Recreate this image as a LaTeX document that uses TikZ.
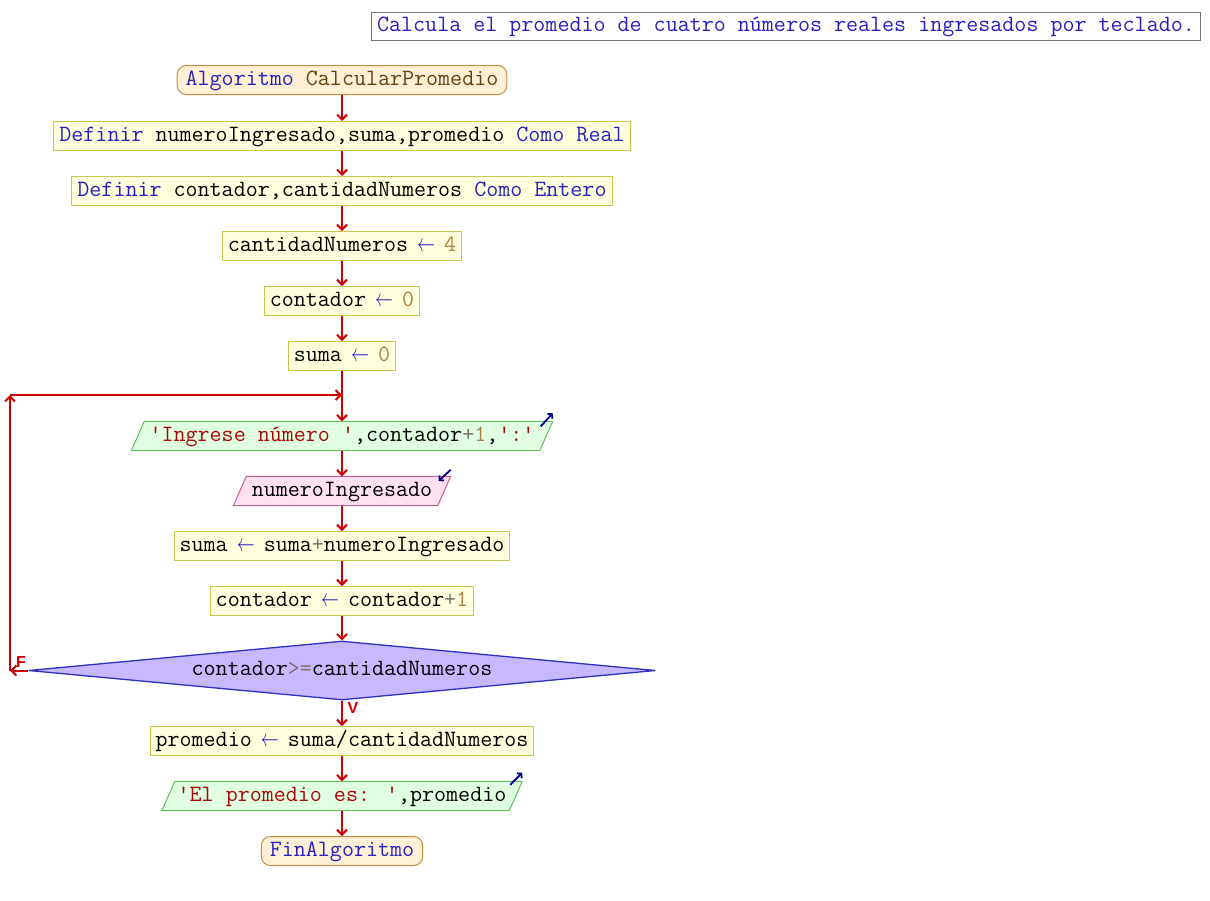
\documentclass[tikz,border=0pt]{standalone}
\usepackage{fontspec}
\newfontfamily\labfont{Liberation Sans}
\usetikzlibrary{arrows.meta,shapes.geometric,calc}
\pgfdeclarelayer{background}
\pgfsetlayers{background,main}
\definecolor{kwc}{RGB}{40,32,192}
\definecolor{nmc}{RGB}{100,64,16}
\definecolor{strc}{RGB}{168,8,8}
\definecolor{numc}{RGB}{176,128,64}
\definecolor{opc}{RGB}{128,112,96}
\definecolor{procf}{RGB}{255,255,221}
\definecolor{procb}{RGB}{200,200,80}
\definecolor{termf}{RGB}{255,240,214}
\definecolor{termb}{RGB}{200,140,64}
\definecolor{outf}{RGB}{224,255,224}
\definecolor{outb}{RGB}{96,192,96}
\definecolor{inf}{RGB}{255,224,240}
\definecolor{inb}{RGB}{192,96,144}
\definecolor{decf}{RGB}{200,184,255}
\definecolor{decb}{RGB}{48,48,192}
\definecolor{arrc}{RGB}{204,0,0}
\definecolor{iconc}{RGB}{0,0,140}
\newcommand\kwx[1]{\textcolor{kwc}{#1}}
\newcommand\stx[1]{\textcolor{strc}{#1}}
\newcommand\nbx[1]{\textcolor{numc}{#1}}
\newcommand\opx[1]{\textcolor{opc}{#1}}
\newcommand\larr{\makebox[12pt][c]{\textcolor{kwc}{\scalebox{0.72}[1]{$\leftarrow$}}}}
\begin{document}
\begin{tikzpicture}[x=1pt,y=-1pt,
  font=\ttfamily\fontsize{23.35}{26}\selectfont,
  every node/.style={text height=14pt,text depth=4pt},
  proc/.style={rectangle,draw=procb,fill=procf,line width=1pt,inner xsep=5.5pt,inner ysep=0pt,minimum height=29pt},
  term/.style={rectangle,rounded corners=9pt,draw=termb,fill=termf,line width=1pt,inner xsep=8.5pt,inner ysep=0pt,minimum height=29pt},
  par/.style={rectangle,inner sep=0pt,minimum height=29pt},
  dec/.style={diamond,draw=decb,fill=decf,line width=1.3pt,aspect=10,inner sep=0pt,minimum width=627pt,minimum height=59pt},
  arr/.style={draw=arrc,line width=2pt,-{Straight Barb[length=5pt,width=10pt]}},
  icon/.style={draw=iconc,line width=1.8pt,-{Straight Barb[length=3pt,width=7pt]}},
  lab/.style={font=\labfont\bfseries\fontsize{16}{16}\selectfont,text=arrc,inner sep=0pt,text height=12pt,text depth=0pt}]
\useasboundingbox (0,0) rectangle (1210,900);

\node[rectangle,draw=black!55,fill=white,line width=1pt,inner xsep=5.5pt,inner ysep=0pt,minimum height=28pt,text=kwc] (title) at (786,26) {Calcula el promedio de cuatro números reales ingresados por teclado.};

\node[term] (start) at (342,80) {\kwx{Algoritmo} \textcolor{nmc}{CalcularPromedio}};
\node[proc] (d1) at (342,136) {\kwx{Definir} numeroIngresado,suma,promedio \kwx{Como Real}};
\node[proc] (d2) at (342,191) {\kwx{Definir} contador,cantidadNumeros \kwx{Como Entero}};
\node[proc] (a1) at (342,246) {cantidadNumeros \larr{} \nbx{4}};
\node[proc] (a2) at (342,301) {contador \larr{} \nbx{0}};
\node[proc] (a3) at (342,356) {suma \larr{} \nbx{0}};
\node[par,minimum width=408pt] (o1) at (342,436) {\stx{'Ingrese número '},contador\opx{+}\nbx{1},\stx{':'}};
\node[par,minimum width=204pt] (i1) at (342,491) {numeroIngresado};
\node[proc] (a4) at (342,546) {suma \larr{} suma\opx{+}numeroIngresado};
\node[proc] (a5) at (342,601) {contador \larr{} contador\opx{+}\nbx{1}};
\node[dec] (c1) at (342,670.5) {contador\opx{>=}cantidadNumeros};
\node[proc] (a6) at (342,741) {promedio \larr{} suma/cantidadNumeros};
\node[par,minimum width=347pt] (o2) at (342,796) {\stx{'El promedio es: '},promedio};
\node[term] (fin) at (342,851) {\kwx{FinAlgoritmo}};

\begin{pgfonlayer}{background}
\fill[white] (0,0) rectangle (1210,900);
\filldraw[draw=outb,fill=outf,line width=1pt] ($(o1.south west)+(-6.5,0)$) -- ($(o1.north west)+(6.5,0)$) -- ($(o1.north east)+(6.5,0)$) -- ($(o1.south east)+(-6.5,0)$) -- cycle;
\filldraw[draw=inb,fill=inf,line width=1pt] ($(i1.south west)+(-6.5,0)$) -- ($(i1.north west)+(6.5,0)$) -- ($(i1.north east)+(6.5,0)$) -- ($(i1.south east)+(-6.5,0)$) -- cycle;
\filldraw[draw=outb,fill=outf,line width=1pt] ($(o2.south west)+(-6.5,0)$) -- ($(o2.north west)+(6.5,0)$) -- ($(o2.north east)+(6.5,0)$) -- ($(o2.south east)+(-6.5,0)$) -- cycle;
\end{pgfonlayer}

\draw[icon] ([shift={(-5.5,5)}]o1.north east) -- ([shift={(6.5,-8)}]o1.north east);
\draw[icon] ([shift={(6.5,-6.5)}]i1.north east) -- ([shift={(-5.5,4.5)}]i1.north east);
\draw[icon] ([shift={(-5.5,3.5)}]o2.north east) -- ([shift={(6.5,-8.5)}]o2.north east);

\draw[arr] (start.south) -- (d1.north);
\draw[arr] (d1.south) -- (d2.north);
\draw[arr] (d2.south) -- (a1.north);
\draw[arr] (a1.south) -- (a2.north);
\draw[arr] (a2.south) -- (a3.north);
\draw[arr] (a3.south) -- (o1.north);
\draw[arr] (o1.south) -- (i1.north);
\draw[arr] (i1.south) -- (a4.north);
\draw[arr] (a4.south) -- (a5.north);
\draw[arr] (a5.south) -- (c1.north);
\draw[arr] (c1.south) -- (a6.north);
\draw[arr] (a6.south) -- (o2.north);
\draw[arr] (o2.south) -- (fin.north);

\coordinate (fl) at (10,670.5);
\coordinate (tl) at (10,395);
\coordinate (jn) at (342,395);
\draw[arr] (c1.west) -- (fl);
\draw[arr] (fl) -- (tl);
\draw[arr] (tl) -- (jn);

\node[lab] (F) at (21,661) {F};
\node[lab] (V) at (353,707) {V};
\end{tikzpicture}
\end{document}
